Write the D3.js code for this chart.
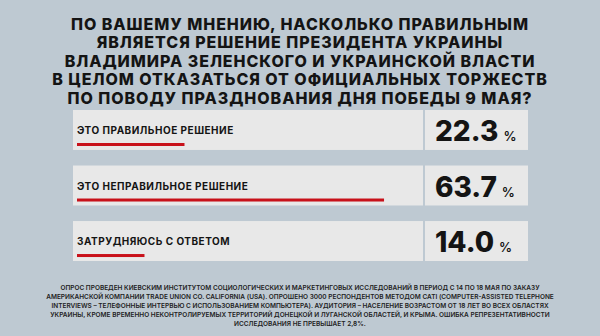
<!DOCTYPE html>
<html>
<head>
<meta charset="utf-8">
<script src="https://cdn.jsdelivr.net/npm/d3@7"></script>
<style>
  html, body { margin: 0; padding: 0; background: #bec9d2; }
  svg { display: block; }
  text { font-family: "Inter", "DejaVu Sans", sans-serif; fill: #141414; }
</style>
</head>
<body>
<svg class="chart" width="600" height="336"></svg>
<script>
// question title lines
var titleLines = [
  "ПО ВАШЕМУ МНЕНИЮ, НАСКОЛЬКО ПРАВИЛЬНЫМ",
  "ЯВЛЯЕТСЯ РЕШЕНИЕ ПРЕЗИДЕНТА УКРАИНЫ",
  "ВЛАДИМИРА ЗЕЛЕНСКОГО И УКРАИНСКОЙ ВЛАСТИ",
  "В ЦЕЛОМ ОТКАЗАТЬСЯ ОТ ОФИЦИАЛЬНЫХ ТОРЖЕСТВ",
  "ПО ПОВОДУ ПРАЗДНОВАНИЯ ДНЯ ПОБЕДЫ 9 МАЯ?"
];
// answers and shares, %
var categories = ["ЭТО ПРАВИЛЬНОЕ РЕШЕНИЕ", "ЭТО НЕПРАВИЛЬНОЕ РЕШЕНИЕ", "ЗАТРУДНЯЮСЬ С ОТВЕТОМ"];
var values = [22.3, 63.7, 14.0];
// methodology note
var noteLines = [
  "ОПРОС ПРОВЕДЕН КИЕВСКИМ ИНСТИТУТОМ СОЦИОЛОГИЧЕСКИХ И МАРКЕТИНГОВЫХ ИССЛЕДОВАНИЙ В ПЕРИОД С 14 ПО 18 МАЯ ПО ЗАКАЗУ",
  "АМЕРИКАНСКОЙ КОМПАНИИ TRADE UNION CO. CALIFORNIA (USA). ОПРОШЕНО 3000 РЕСПОНДЕНТОВ МЕТОДОМ CATI (COMPUTER-ASSISTED TELEPHONE",
  "INTERVIEWS – ТЕЛЕФОННЫЕ ИНТЕРВЬЮ С ИСПОЛЬЗОВАНИЕМ КОМПЬЮТЕРА). АУДИТОРИЯ – НАСЕЛЕНИЕ ВОЗРАСТОМ ОТ 18 ЛЕТ ВО ВСЕХ ОБЛАСТЯХ",
  "УКРАИНЫ, КРОМЕ ВРЕМЕННО НЕКОНТРОЛИРУЕМЫХ ТЕРРИТОРИЙ ДОНЕЦКОЙ И ЛУГАНСКОЙ ОБЛАСТЕЙ, И КРЫМА. ОШИБКА РЕПРЕЗЕНТАТИВНОСТИ",
  "ИССЛЕДОВАНИЯ НЕ ПРЕВЫШАЕТ 2,8%."
];

var svg = d3.select("svg.chart");

// scales
var x = d3.scaleLinear().domain([0, 100]).range([77, 559]);
var y = d3.scaleBand().domain(categories).range([110, 261]).paddingInner(0.28);

// title
svg.append("g").selectAll("text")
    .data(titleLines)
    .enter()
    .append("text")
    .attr("x", 300)
    .attr("y", function(d, i) { return 29.5 + i * 18.5; })
    .attr("text-anchor", "middle")
    .style("font-size", "16px")
    .style("font-weight", 800)
    .style("letter-spacing", "0.95px")
    .text(function(d) { return d; });

// rows
var rows = svg.append("g").selectAll("g")
    .data(categories)
    .enter()
    .append("g")
    .attr("transform", function(d) { return "translate(0," + y(d) + ")"; });

// label panel
rows.append("rect")
    .attr("x", 73).attr("width", 350)
    .attr("height", y.bandwidth())
    .attr("fill", "#e8e8e8");

// value panel
rows.append("rect")
    .attr("x", 425).attr("width", 103)
    .attr("height", y.bandwidth())
    .attr("fill", "#e8e8e8");

rows.append("text")
    .attr("x", 77).attr("y", 24)
    .style("font-size", "10px")
    .style("font-weight", 700)
    .style("letter-spacing", "0.5px")
    .text(function(d) { return d; });

// red bars
rows.append("rect")
    .attr("x", x(0))
    .attr("y", 33)
    .attr("height", 3)
    .attr("width", function(d, i) { return x(values[i]) - x(0); })
    .attr("fill", "#c8111a");

// value text
var val = rows.append("text")
    .attr("x", 435).attr("y", 31);
val.append("tspan")
    .style("font-size", "28px")
    .style("font-weight", 800)
    .text(function(d, i) { return values[i].toFixed(1); });
val.append("tspan")
    .attr("dx", 5)
    .style("font-size", "13px")
    .style("font-weight", 600)
    .text("%");

// note
svg.append("g").selectAll("text")
    .data(noteLines)
    .enter()
    .append("text")
    .attr("x", 300)
    .attr("y", function(d, i) { return 290 + i * 8.9; })
    .attr("text-anchor", "middle")
    .style("font-size", "6.5px")
    .style("font-weight", 600)
    .style("fill", "#222")
    .text(function(d) { return d; });
</script>
</body>
</html>
